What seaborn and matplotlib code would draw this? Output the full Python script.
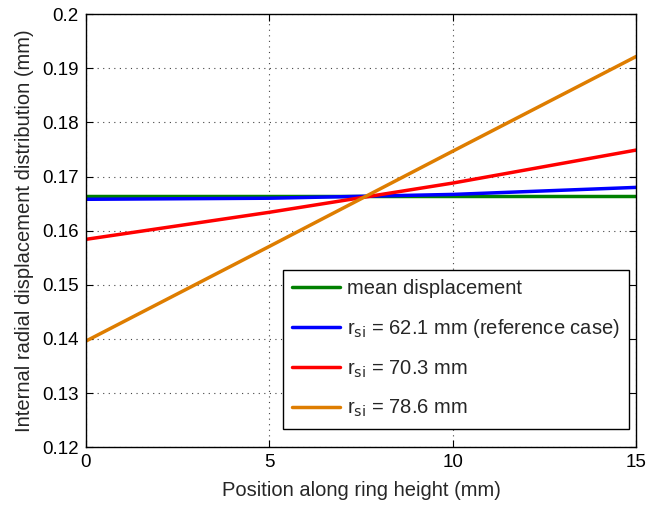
import matplotlib
matplotlib.use("Agg")
import matplotlib.pyplot as plt
import seaborn as sns
import pandas as pd

position = [0, 5, 10, 15]
mean_disp = [0.1665, 0.1665, 0.1665, 0.1665]
r621 = [0.1658, 0.1660, 0.1667, 0.1680]
r703 = [0.1584, 0.1634, 0.1688, 0.1749]
r786 = [0.1396, 0.1571, 0.1747, 0.1922]

labels = ["mean displacement",
          "r$_{\\mathrm{si}}$ = 62.1 mm (reference case)",
          "r$_{\\mathrm{si}}$ = 70.3 mm",
          "r$_{\\mathrm{si}}$ = 78.6 mm"]
colors = ["#008000", "#0000FF", "#FF0000", "#DE7D00"]

rows = []
for lab, vals in zip(labels, [mean_disp, r621, r703, r786]):
    for x, y in zip(position, vals):
        rows.append({"pos": x, "disp": y, "series": lab})
df = pd.DataFrame(rows)

sns.set_style("white")
plt.rcParams["font.family"] = ["Liberation Sans", "DejaVu Sans"]
plt.rcParams["mathtext.default"] = "regular"

fig = plt.figure(figsize=(6.46, 5.07), dpi=100)
ax = fig.add_axes([0.133, 0.118, 0.852, 0.854])
sns.lineplot(data=df, x="pos", y="disp", hue="series", hue_order=labels,
             palette=colors, linewidth=2.5, ax=ax)

ax.set_xlim(0, 15)
ax.set_ylim(0.12, 0.2)
ax.set_xticks([0, 5, 10, 15])
ax.set_xticklabels(["0", "5", "10", "15"])
yt = [0.12, 0.13, 0.14, 0.15, 0.16, 0.17, 0.18, 0.19, 0.2]
ax.set_yticks(yt)
ax.set_yticklabels(["0.12", "0.13", "0.14", "0.15", "0.16", "0.17", "0.18", "0.19", "0.2"])
ax.grid(True, linestyle=(0, (1, 4)), color="#444444", linewidth=0.8)
ax.tick_params(direction="in", length=5, width=0.8, labelsize=13.5, top=True, right=True,
               bottom=True, left=True, colors="black", pad=5)
for s in ax.spines.values():
    s.set_visible(True)
    s.set_color("black")
    s.set_linewidth(1.0)
ax.set_xlabel("Position along ring height (mm)", fontsize=14.5, labelpad=7)
ax.set_ylabel("Internal radial displacement distribution (mm)", fontsize=14.5, labelpad=6)

leg = ax.legend(loc="lower right", bbox_to_anchor=(0.987, 0.043), fontsize=14.5,
                frameon=True, fancybox=False, edgecolor="black", framealpha=1,
                handlelength=2.4, borderpad=0.45, labelspacing=0.92, handletextpad=0.35,
                borderaxespad=0)
leg.get_frame().set_linewidth(1.0)
for l in leg.get_lines():
    l.set_linewidth(2.5)

fig.savefig("out.png", dpi=100)
